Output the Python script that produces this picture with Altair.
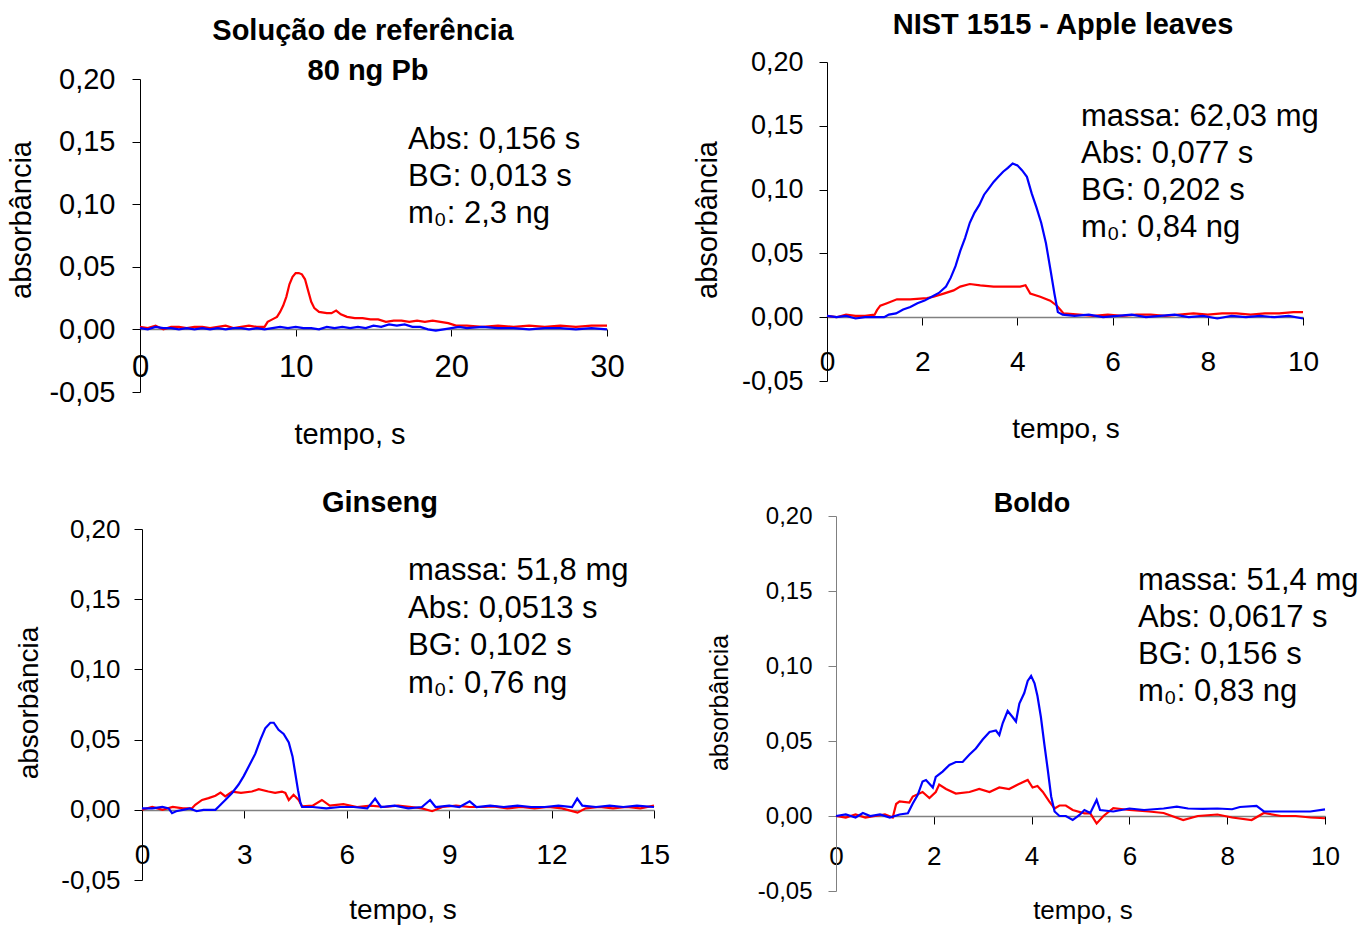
import altair as alt
import pandas as pd

W, H = 1366, 925
FONT = "Liberation Sans"
RED = "#ff0000"
BLUE = "#0000ff"

# ---------------- data (tempo s, absorbância) ----------------
p1_red = [(0.0, 0.002), (0.5, 0.001), (1.0, 0.003), (1.5, 0.000), (2.0, 0.002), (2.5, 0.002),
          (3.0, 0.001), (3.5, 0.002), (4.0, 0.002), (4.5, 0.001), (5.0, 0.002), (5.5, 0.003),
          (6.0, 0.001), (6.5, 0.002), (7.0, 0.003), (7.5, 0.002), (8.0, 0.002), (8.2, 0.006),
          (8.5, 0.008), (8.8, 0.010), (9.0, 0.014), (9.2, 0.019), (9.4, 0.026), (9.6, 0.036),
          (9.8, 0.042), (10.0, 0.045), (10.2, 0.045), (10.4, 0.044), (10.6, 0.040), (10.8, 0.031),
          (11.0, 0.022), (11.2, 0.017), (11.5, 0.014), (12.0, 0.013), (12.3, 0.013), (12.6, 0.015),
          (12.9, 0.012), (13.3, 0.010), (13.8, 0.009), (14.3, 0.009), (14.8, 0.008), (15.3, 0.008),
          (15.8, 0.006), (16.3, 0.007), (16.8, 0.007), (17.3, 0.006), (17.8, 0.007), (18.3, 0.006),
          (18.8, 0.007), (19.3, 0.006), (19.8, 0.005), (20.3, 0.003), (21.0, 0.003), (22.0, 0.002),
          (23.0, 0.003), (24.0, 0.002), (25.0, 0.003), (26.0, 0.002), (27.0, 0.003), (28.0, 0.002),
          (29.0, 0.003), (30.0, 0.003)]
p1_blue = [(0.0, 0.001), (0.5, 0.000), (1.0, 0.002), (1.5, 0.001), (2.0, 0.001), (2.5, 0.000),
           (3.0, 0.001), (3.5, 0.000), (4.0, 0.001), (4.5, 0.000), (5.0, 0.001), (5.5, 0.000),
           (6.0, 0.001), (6.5, 0.001), (7.0, 0.000), (7.5, 0.001), (8.0, 0.000), (8.5, 0.001),
           (9.0, 0.002), (9.5, 0.001), (10.0, 0.002), (10.5, 0.001), (11.0, 0.001), (11.5, 0.000),
           (12.0, 0.002), (12.5, 0.001), (13.0, 0.002), (13.5, 0.001), (14.0, 0.002), (14.5, 0.001),
           (15.0, 0.003), (15.5, 0.002), (16.0, 0.004), (16.5, 0.003), (17.0, 0.004), (17.5, 0.002),
           (18.0, 0.002), (18.5, 0.000), (19.0, -0.001), (19.5, 0.000), (20.0, 0.001), (20.5, 0.002),
           (21.0, 0.001), (22.0, 0.002), (23.0, 0.001), (24.0, 0.001), (25.0, 0.000), (26.0, 0.001),
           (27.0, 0.001), (28.0, 0.000), (29.0, 0.001), (30.0, 0.000)]

p2_red = [(0.0, 0.001), (0.2, 0.000), (0.4, 0.002), (0.6, 0.001), (0.8, 0.001), (1.0, 0.002),
          (1.05, 0.0055), (1.12, 0.009), (1.26, 0.011), (1.47, 0.014), (1.75, 0.014), (2.1, 0.015),
          (2.24, 0.016), (2.45, 0.0185), (2.66, 0.021), (2.8, 0.024), (3.0, 0.026), (3.22, 0.025),
          (3.5, 0.024), (3.78, 0.024), (4.06, 0.024), (4.17, 0.025), (4.27, 0.0185), (4.48, 0.016),
          (4.69, 0.013), (4.83, 0.009), (4.97, 0.003), (5.3, 0.002), (5.6, 0.001), (5.9, 0.002),
          (6.2, 0.001), (6.5, 0.002), (6.8, 0.002), (7.1, 0.001), (7.4, 0.002), (7.7, 0.003),
          (8.0, 0.002), (8.3, 0.003), (8.6, 0.003), (8.9, 0.002), (9.2, 0.003), (9.5, 0.003),
          (9.8, 0.004), (10.0, 0.004)]
p2_blue = [(0.0, 0.001), (0.2, 0.000), (0.4, 0.001), (0.6, -0.001), (0.8, 0.000), (1.0, 0.000),
           (1.2, 0.000), (1.3, 0.002), (1.45, 0.003), (1.6, 0.006), (1.75, 0.008), (1.9, 0.011),
           (2.05, 0.013), (2.2, 0.016), (2.35, 0.019), (2.5, 0.024), (2.6, 0.031), (2.7, 0.040),
           (2.8, 0.052), (2.9, 0.062), (3.0, 0.074), (3.1, 0.082), (3.2, 0.088), (3.3, 0.096),
           (3.4, 0.101), (3.5, 0.106), (3.6, 0.110), (3.7, 0.114), (3.8, 0.117), (3.9, 0.1205),
           (4.0, 0.119), (4.1, 0.115), (4.2, 0.110), (4.3, 0.097), (4.4, 0.086), (4.5, 0.074),
           (4.6, 0.058), (4.7, 0.036), (4.78, 0.018), (4.85, 0.004), (4.95, 0.002), (5.2, 0.001),
           (5.5, 0.002), (5.8, 0.000), (6.1, 0.001), (6.4, 0.002), (6.7, 0.000), (7.0, 0.001),
           (7.3, 0.002), (7.6, 0.000), (7.9, 0.001), (8.2, -0.001), (8.5, 0.001), (8.8, 0.000),
           (9.1, 0.001), (9.4, 0.000), (9.7, 0.001), (10.0, -0.001)]

p3_red = [(0.0, 0.000), (0.3, 0.002), (0.6, 0.000), (0.9, 0.002), (1.2, 0.001), (1.46, 0.001),
          (1.56, 0.0036), (1.76, 0.007), (1.95, 0.0083), (2.15, 0.010), (2.3, 0.0123), (2.44, 0.0095),
          (2.64, 0.013), (2.9, 0.012), (3.22, 0.013), (3.42, 0.0147), (3.7, 0.013), (3.9, 0.012),
          (4.1, 0.013), (4.2, 0.012), (4.3, 0.007), (4.44, 0.0107), (4.59, 0.007), (4.69, 0.0024),
          (5.0, 0.003), (5.27, 0.007), (5.5, 0.003), (5.9, 0.004), (6.3, 0.002), (6.7, 0.003),
          (7.1, 0.002), (7.5, 0.003), (7.9, 0.002), (8.2, 0.001), (8.5, -0.001), (8.8, 0.002),
          (9.2, 0.003), (9.6, 0.002), (10.0, 0.002), (10.3, 0.0024), (10.7, 0.001), (11.1, 0.002),
          (11.5, 0.001), (11.9, 0.002), (12.3, 0.001), (12.76, -0.002), (13.0, 0.001), (13.4, 0.002),
          (13.8, 0.001), (14.2, 0.002), (14.6, 0.001), (15.0, 0.003)]
p3_blue = [(0.0, 0.001), (0.3, 0.001), (0.6, 0.002), (0.78, 0.001), (0.88, -0.0024), (1.0, -0.001),
           (1.2, 0.000), (1.4, 0.001), (1.6, -0.001), (1.8, 0.000), (2.0, 0.000), (2.15, 0.000),
           (2.25, 0.0024), (2.44, 0.007), (2.64, 0.012), (2.83, 0.018), (2.98, 0.024), (3.13, 0.031),
           (3.32, 0.040), (3.47, 0.050), (3.61, 0.058), (3.76, 0.062), (3.86, 0.062), (4.0, 0.057),
           (4.15, 0.054), (4.3, 0.048), (4.41, 0.038), (4.49, 0.026), (4.57, 0.014), (4.64, 0.005),
           (4.69, 0.002), (5.0, 0.002), (5.4, 0.001), (5.8, 0.002), (6.2, 0.002), (6.6, 0.001),
           (6.83, 0.008), (7.0, 0.002), (7.4, 0.003), (7.8, 0.001), (8.2, 0.002), (8.44, 0.007),
           (8.6, 0.002), (9.0, 0.003), (9.3, 0.002), (9.6, 0.006), (9.8, 0.002), (10.2, 0.003),
           (10.6, 0.002), (11.0, 0.003), (11.4, 0.002), (11.8, 0.002), (12.2, 0.003), (12.6, 0.002),
           (12.75, 0.008), (12.9, 0.003), (13.3, 0.002), (13.7, 0.003), (14.1, 0.002), (14.5, 0.003),
           (15.0, 0.002)]

p4_red = [(0.0, 0.000), (0.2, -0.001), (0.4, 0.001), (0.6, -0.001), (0.8, 0.000), (1.0, 0.001),
          (1.16, -0.001), (1.23, 0.008), (1.3, 0.0097), (1.5, 0.009), (1.57, 0.013), (1.77, 0.016),
          (1.91, 0.012), (2.04, 0.016), (2.11, 0.021), (2.25, 0.018), (2.45, 0.015), (2.73, 0.016),
          (2.93, 0.018), (3.14, 0.016), (3.34, 0.019), (3.54, 0.018), (3.72, 0.021), (3.92, 0.024),
          (4.02, 0.019), (4.12, 0.020), (4.23, 0.016), (4.36, 0.0097), (4.47, 0.005), (4.57, 0.007),
          (4.7, 0.007), (4.84, 0.004), (5.08, 0.0018), (5.2, 0.0018), (5.33, -0.005), (5.47, 0.000),
          (5.67, 0.0052), (6.0, 0.004), (6.4, 0.003), (6.7, 0.002), (7.1, -0.0027), (7.4, 0.000),
          (7.8, 0.001), (8.1, -0.001), (8.5, -0.0027), (8.75, 0.002), (9.1, 0.000), (9.4, 0.000),
          (9.7, -0.001), (10.0, -0.0015)]
p4_blue = [(0.0, 0.000), (0.2, 0.001), (0.4, -0.001), (0.55, 0.002), (0.7, 0.000), (0.9, 0.001),
           (1.1, -0.001), (1.3, 0.001), (1.47, 0.0018), (1.57, 0.0084), (1.67, 0.014), (1.77, 0.023),
           (1.84, 0.024), (1.98, 0.019), (2.04, 0.026), (2.18, 0.0296), (2.32, 0.034), (2.45, 0.036),
           (2.59, 0.036), (2.73, 0.041), (2.86, 0.045), (3.0, 0.051), (3.14, 0.056), (3.27, 0.057),
           (3.34, 0.054), (3.41, 0.062), (3.51, 0.070), (3.61, 0.066), (3.68, 0.063), (3.75, 0.075),
           (3.85, 0.082), (3.92, 0.090), (3.99, 0.0934), (4.06, 0.0885), (4.12, 0.080), (4.19, 0.066),
           (4.26, 0.048), (4.33, 0.031), (4.4, 0.013), (4.47, 0.003), (4.57, 0.000), (4.7, 0.000),
           (4.84, -0.0027), (4.98, 0.0007), (5.08, 0.004), (5.2, 0.002), (5.33, 0.0107), (5.4, 0.004),
           (5.67, 0.003), (6.0, 0.005), (6.3, 0.004), (6.7, 0.005), (6.97, 0.0062), (7.2, 0.005),
           (7.5, 0.0047), (7.8, 0.005), (8.1, 0.0045), (8.26, 0.006), (8.6, 0.0067), (8.75, 0.003),
           (9.0, 0.003), (9.3, 0.003), (9.7, 0.003), (10.0, 0.0044)]

y_ticks = [-0.05, 0.0, 0.05, 0.10, 0.15, 0.20]
x_ticks_1 = [0, 10, 20, 30]
x_ticks_2 = [0, 2, 4, 6, 8, 10]
x_ticks_3 = [0, 3, 6, 9, 12, 15]
x_ticks_4 = [0, 2, 4, 6, 8, 10]

title_1 = ["Solução de referência", "80 ng Pb"]
title_2 = ["NIST 1515 - Apple leaves"]
title_3 = ["Ginseng"]
title_4 = ["Boldo"]
notes_1 = ["Abs: 0,156 s", "BG: 0,013 s", "m\u2080: 2,3 ng"]
notes_2 = ["massa: 62,03 mg", "Abs: 0,077 s", "BG: 0,202 s", "m\u2080: 0,84 ng"]
notes_3 = ["massa: 51,8 mg", "Abs: 0,0513 s", "BG: 0,102 s", "m\u2080: 0,76 ng"]
notes_4 = ["massa: 51,4 mg", "Abs: 0,0617 s", "BG: 0,156 s", "m\u2080: 0,83 ng"]
y_title = "absorbância"
x_title = "tempo, s"

LABEL_EXPR = "(datum.value < 0 ? '-' : '') + replace(format(abs(datum.value), '.2f'), '.', ',')"


def text_layer(s, x, y, size, bold=False, align="left", angle=0):
    return alt.Chart(pd.DataFrame({"label": [s]})).mark_text(
        font=FONT, fontSize=size, fontWeight="bold" if bold else "normal",
        align=align, baseline="middle", angle=angle, color="black"
    ).encode(x=alt.value(x), y=alt.value(y), text="label:N")


def panel(red, blue, xdom, xticks, xr, yr, y0, fs):
    """xr: pixel range of x scale, yr: pixel range (bottom, top) of y scale, y0: pixel of zero line."""
    x_enc = alt.X(
        "t:Q",
        scale=alt.Scale(domain=xdom, range=xr, nice=False, zero=False),
        axis=alt.Axis(
            orient="bottom", offset=y0 - H, values=xticks, format="d", grid=False,
            domainColor="#808080", domainWidth=1.5, tickColor="black", tickSize=fs["xtick"],
            tickWidth=1, labelFont=FONT, labelFontSize=fs["xlab"], labelColor="black",
            labelPadding=fs["xpad"], labelBaseline="middle", labelFlush=False,
            labelOverlap=False, labelAngle=0, title=None,
        ),
    )
    y_enc = alt.Y(
        "a:Q",
        scale=alt.Scale(domain=[-0.05, 0.20], range=yr, nice=False, zero=False),
        axis=alt.Axis(
            orient="left", offset=-xr[0], values=y_ticks, labelExpr=LABEL_EXPR, grid=False,
            domainColor=fs["ycol"], domainWidth=1, tickColor=fs["ycol"], tickSize=8, tickWidth=1,
            labelFont=FONT, labelFontSize=fs["ylab"], labelColor="black",
            labelPadding=fs["ypad"], labelFlush=False, labelOverlap=False, title=None,
        ),
    )
    red_df = pd.DataFrame(red, columns=["t", "a"])
    blue_df = pd.DataFrame(blue, columns=["t", "a"])
    red_line = alt.Chart(red_df).mark_line(color=RED, strokeWidth=2.2).encode(x=x_enc, y=y_enc)
    blue_line = alt.Chart(blue_df).mark_line(color=BLUE, strokeWidth=2.2).encode(x=x_enc, y=y_enc)
    return [red_line, blue_line]


layers1 = panel(p1_red, p1_blue, [0, 30], x_ticks_1, [140, 607], [392, 79], 329,
                dict(xtick=7, xlab=31, xpad=31, ylab=29, ypad=17, ycol="black"))
layers2 = panel(p2_red, p2_blue, [0, 10], x_ticks_2, [827, 1303], [381, 62], 317,
                dict(xtick=8, xlab=28, xpad=37, ylab=27, ypad=16, ycol="black"))
layers3 = panel(p3_red, p3_blue, [0, 15], x_ticks_3, [142, 654], [880, 529], 810,
                dict(xtick=8, xlab=28, xpad=37, ylab=26, ypad=14, ycol="black"))
layers4 = panel(p4_red, p4_blue, [0, 10], x_ticks_4, [836, 1325], [891, 516], 816,
                dict(xtick=8, xlab=26, xpad=32, ylab=24, ypad=16, ycol="#808080"))

texts = []
# panel titles
texts.append(text_layer(title_1[0], 363, 31, 29, bold=True, align="center"))
texts.append(text_layer(title_1[1], 368, 71, 29, bold=True, align="center"))
texts.append(text_layer(title_2[0], 1063, 25, 29, bold=True, align="center"))
texts.append(text_layer(title_3[0], 380, 503, 29, bold=True, align="center"))
texts.append(text_layer(title_4[0], 1032, 504, 27, bold=True, align="center"))
# annotations
for i, s in enumerate(notes_1):
    texts.append(text_layer(s, 408, 140 + i * 37, 31))
for i, s in enumerate(notes_2):
    texts.append(text_layer(s, 1081, 117 + i * 37, 31))
for i, s in enumerate(notes_3):
    texts.append(text_layer(s, 408, 571 + i * 37.5, 31))
for i, s in enumerate(notes_4):
    texts.append(text_layer(s, 1138, 581 + i * 37, 31))
# axis titles
texts.append(text_layer(y_title, 22, 220, 29, align="center", angle=270))
texts.append(text_layer(y_title, 708, 220, 29, align="center", angle=270))
texts.append(text_layer(y_title, 30, 703, 28, align="center", angle=270))
texts.append(text_layer(y_title, 720, 703, 25, align="center", angle=270))
texts.append(text_layer(x_title, 350, 435, 29, align="center"))
texts.append(text_layer(x_title, 1066, 430, 28, align="center"))
texts.append(text_layer(x_title, 403, 911, 28, align="center"))
texts.append(text_layer(x_title, 1083, 911, 26, align="center"))

p1 = alt.layer(*layers1)
p2 = alt.layer(*layers2)
p3 = alt.layer(*layers3)
p4 = alt.layer(*layers4)

chart = (
    alt.layer(p1, p2, p3, p4, *texts)
    .resolve_scale(x="independent", y="independent")
    .properties(width=W, height=H, padding=0, autosize="none", background="white")
    .configure_view(stroke=None)
)

chart.save("out.html", embed_options={"renderer": "svg", "actions": False})
